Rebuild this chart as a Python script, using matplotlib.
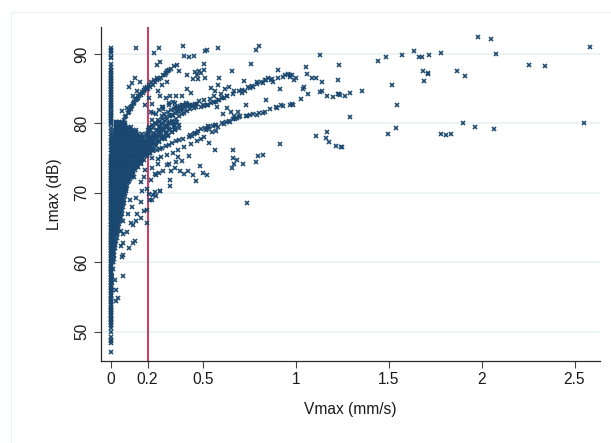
import matplotlib
matplotlib.use("Agg")
import matplotlib.pyplot as plt
from matplotlib.patches import Rectangle

plt.rcParams['font.family'] = ['Liberation Sans', 'DejaVu Sans']

x_ticks = [0, 0.2, 0.5, 1, 1.5, 2, 2.5]
x_tick_labels = ['0', '0.2', '0.5', '1', '1.5', '2', '2.5']
y_ticks = [50, 60, 70, 80, 90]
threshold = 0.2

# column of near-zero Vmax readings
column_vmax = 0.001
column_lmax = [47.1, 48.4, 48.6, 48.8, 49.2, 50.0, 50.9, 51.2, 51.6, 52.0, 52.4, 52.9, 53.3, 53.8, 54.2, 54.7,
               55.1, 55.6, 56.0, 56.5, 57.0, 57.4, 57.9, 58.3, 58.8, 59.2, 59.7, 60.2, 60.6, 61.1, 61.6, 62.0,
               62.5, 63.0, 63.4, 63.9, 64.4, 64.9, 65.3, 65.8, 66.3, 66.7, 67.2, 67.7, 68.2, 68.6, 69.1, 69.6,
               70.0, 70.5, 71.0, 71.4, 71.9, 72.4, 72.9, 73.3, 73.8, 74.3, 74.7, 75.2, 75.7, 76.1, 76.6, 77.1,
               77.5, 78.0, 78.5, 78.9, 79.4, 79.9, 80.3, 80.8, 81.3, 81.7, 82.2, 82.7, 83.1, 83.6, 84.1, 84.5,
               85.0, 85.4, 85.9, 86.3, 86.8, 87.2, 87.7, 88.1, 88.5, 89.4, 89.6, 90.2, 90.4, 90.6, 90.8]
column2_vmax = 0.004
column2_lmax = [50.5, 51.0, 51.4, 51.8, 52.2, 52.7, 53.1, 53.6, 54.0, 54.5, 54.9, 55.3, 55.8, 56.3, 56.7, 57.2,
                57.7, 58.1, 58.6, 59.0, 59.5, 59.9, 60.4, 60.9, 61.3, 61.8, 62.3, 62.7, 63.2, 63.7, 64.1, 64.6,
                65.1, 65.5, 66.0, 66.5, 67.0, 67.4, 67.9, 68.4, 68.9, 69.3, 69.8, 70.3, 70.7, 71.2, 71.7, 72.1,
                72.6, 73.1, 73.5, 74.0, 74.5, 75.0, 80.1, 80.6, 81.0, 81.5, 82.0, 82.4, 82.9, 83.4, 83.8, 84.3,
                84.8, 85.2, 85.7, 86.1, 86.6, 87.0, 87.5]

# dense mass, read row by row
dense_lmax = [56.0, 57.0, 58.0, 59.0, 60.0, 60.5, 61.0, 61.5, 62.0, 62.5, 63.0, 63.5, 64.0, 64.5, 65.0, 65.5, 66.0,
              66.5, 67.0, 67.5, 68.0, 68.5, 69.0, 69.5, 70.0, 70.5, 71.0, 71.5, 72.0, 72.5, 73.0, 73.5, 74.0,
              74.5, 75.0, 75.5, 76.0, 76.5, 77.0, 77.5, 78.0, 78.5, 79.0, 79.5, 80.0]
dense_vmax = [
    [.008], [.009], [.010], [.012], [.011, .016], [.012, .017], [.012, .018], [.012, .02], [.014, .024],
    [.014, .026], [.014, .03], [.015, .033], [.014, .028, .036], [.015, .03, .04], [.015, .03, .043],
    [.014, .03, .046], [.015, .032, .05], [.015, .03, .045, .055], [.016, .032, .048, .06],
    [.015, .03, .046, .062], [.014, .03, .045, .06, .068], [.016, .032, .048, .062, .072],
    [.015, .03, .046, .06, .075], [.014, .03, .045, .06, .078], [.016, .032, .048, .064, .08],
    [.015, .03, .046, .062, .077, .085], [.014, .03, .045, .06, .075, .09],
    [.015, .032, .048, .064, .08, .096], [.016, .03, .046, .062, .078, .094, .105],
    [.014, .03, .047, .063, .079, .095, .11], [.015, .032, .048, .064, .08, .096, .112, .12],
    [.016, .03, .046, .062, .078, .094, .11, .126, .132],
    [.014, .03, .047, .063, .079, .095, .111, .127, .143],
    [.015, .032, .048, .064, .08, .096, .112, .128, .144, .155],
    [.016, .03, .046, .062, .078, .094, .11, .126, .142, .158, .17],
    [.014, .03, .047, .063, .079, .095, .111, .127, .143, .159, .175, .188],
    [.015, .032, .048, .064, .08, .096, .112, .128, .144, .16, .176, .192, .205],
    [.016, .03, .046, .062, .078, .094, .11, .126, .142, .158, .174, .19, .206, .222],
    [.014, .03, .047, .063, .079, .095, .111, .127, .143, .159, .175, .191, .207, .223, .24],
    [.015, .032, .048, .064, .08, .096, .112, .128, .144, .16, .176, .192, .208, .224, .25],
    [.016, .03, .046, .062, .078, .094, .11, .126, .142, .158, .174, .19, .215, .245, .265, .285],
    [.022, .036, .052, .068, .084, .1, .116, .132, .15, .168, .19, .23, .27, .3],
    [.026, .042, .058, .074, .09, .106, .122, .14, .2, .25, .29, .32],
    [.028, .044, .06, .076, .092, .108, .21, .26, .31, .34],
    [.03, .046, .062, .078, .28, .32, .35]]

dense2_lmax = [61.75, 62.25, 62.75, 63.25, 63.75, 64.25, 64.75, 65.25, 65.75, 66.25, 66.75, 67.25, 67.75, 68.25,
               68.75, 69.25, 69.75, 70.25, 70.75, 71.25, 71.75, 72.25, 72.75, 73.25, 73.75, 74.25, 74.75, 75.25,
               75.75, 76.25, 76.75, 77.25, 77.75, 78.25, 78.75, 79.25, 79.75, 80.25]
dense2_vmax = [
    [.01], [.012], [.011, .022], [.012, .026], [.01, .024], [.011, .023, .034], [.012, .022, .036],
    [.01, .024, .038], [.009, .023, .04], [.01, .024, .038, .048], [.011, .025, .04, .052],
    [.008, .024, .04, .054], [.01, .025, .04, .055], [.008, .022, .038, .054, .064], [.01, .024, .04, .054, .068],
    [.008, .022, .038, .054, .07], [.009, .024, .04, .056, .074], [.008, .023, .038, .054, .07, .082],
    [.01, .024, .038, .054, .07, .086], [.008, .022, .038, .054, .07, .086], [.009, .024, .04, .056, .072, .088, .1],
    [.008, .022, .038, .054, .07, .086, .102, .114], [.01, .024, .04, .056, .072, .088, .104, .12],
    [.008, .022, .038, .054, .07, .086, .102, .118, .13], [.009, .024, .04, .056, .072, .088, .104, .12, .136, .15],
    [.008, .023, .038, .054, .07, .086, .102, .118, .134, .15, .165],
    [.01, .024, .04, .056, .072, .088, .104, .12, .136, .152, .168, .18],
    [.008, .022, .038, .054, .07, .086, .102, .118, .134, .15, .166, .182, .198],
    [.009, .024, .04, .056, .072, .088, .104, .12, .136, .152, .168, .184, .2, .215],
    [.008, .022, .038, .054, .07, .086, .102, .118, .134, .15, .166, .182, .198, .214, .23],
    [.01, .024, .04, .056, .072, .088, .104, .12, .136, .152, .168, .184, .2, .22, .245],
    [.008, .022, .038, .054, .07, .086, .102, .118, .134, .15, .166, .182, .198, .23, .26],
    [.01, .024, .04, .056, .072, .088, .104, .12, .136, .152, .168, .2, .24, .275, .295],
    [.018, .03, .046, .062, .078, .094, .11, .126, .142, .16, .2, .255, .285, .31],
    [.024, .038, .054, .07, .086, .102, .118, .135, .205, .265, .3, .33],
    [.028, .042, .058, .074, .09, .106, .27, .315, .345],
    [.03, .045, .06, .076, .3, .34, .37],
    [.032, .048, .064, .33, .36]]

# the three curved bands
band_vmax = [.057, .075, .084, .093, .102, .111, .12, .129, .137, .146, .155, .164, .173, .182, .191, .2, .213, .227,
             .24, .253, .262, .271, .285, .298, .307, .316, .325, .342, .359, .3, .31, .293,
             .2, .21, .22, .23, .244, .255, .27, .285, .298, .315, .33, .351, .37, .385, .396, .41, .43, .45,
             .2, .215, .23, .245, .262, .28, .3, .32, .334, .35, .365, .38, .4, .42, .44,
             .2, .215, .23, .25, .265, .28, .3, .315, .33, .351, .37, .39, .423, .44, .467, .45, .43,
             .21, .24, .26, .29, .31, .33, .35, .37,
             .08, .098, .108, .117, .126, .134, .142, .15, .16, .168, .178, .186, .196, .206, .22, .234, .248,
             .205, .218, .235, .25, .265, .278, .292, .305, .322, .338, .36, .375, .39,
             .21, .225, .24, .255, .275, .29, .31, .325, .342, .358, .375, .39, .41]
band_lmax = [80.0, 80.5, 81.0, 81.5, 81.9, 82.3, 82.8, 83.1, 83.3, 83.6, 83.9, 84.1, 84.4, 84.7, 84.9, 85.0, 85.3, 85.5,
             85.9, 86.3, 86.4, 86.5, 86.9, 87.3, 87.5, 87.7, 87.9, 88.2, 88.4, 87.2, 87.6, 87.0,
             77.0, 77.3, 77.7, 78.0, 78.3, 78.7, 79.0, 79.4, 79.5, 80.0, 80.4, 80.7, 81.0, 81.3, 81.5, 81.8, 82.0, 82.2,
             78.6, 79.0, 79.4, 79.9, 80.2, 80.6, 80.9, 81.1, 81.2, 81.5, 81.8, 82.0, 82.4, 82.5, 82.6,
             75.7, 75.8, 76.0, 76.1, 76.3, 76.4, 76.7, 76.9, 77.1, 77.4, 77.6, 77.8, 78.1, 78.2, 78.6, 78.5, 78.3,
             76.9, 77.2, 77.4, 77.9, 78.3, 78.7, 79.1, 79.4,
             80.9, 81.6, 82.1, 82.5, 82.9, 83.3, 83.5, 83.9, 84.2, 84.5, 84.8, 85.1, 85.3, 85.6, 86.0, 86.3, 86.6,
             77.6, 78.0, 78.6, 79.1, 79.6, 79.9, 80.4, 80.6, 81.0, 81.2, 81.6, 81.9, 82.1,
             79.4, 79.8, 80.1, 80.5, 81.0, 81.3, 81.6, 81.9, 82.1, 82.3, 82.5, 82.7, 82.8]

# further readings along the outer arms, x from 0.45 to 0.95
arm_vmax = [.455, .47, .49, .51, .53, .55, .57, .6, .62, .64, .66, .68, .7, .73, .75, .77, .8, .83, .86, .89, .92,
            .46, .485, .505, .52, .54, .56, .58, .61, .63, .66, .69, .71, .74, .76, .79, .81, .84, .87, .9, .94]
arm_lmax = [78.6, 78.9, 79.2, 79.3, 79.5, 79.6, 79.7, 80.0, 80.2, 80.4, 80.6, 80.8, 81.0, 81.1, 81.2, 81.3, 81.5, 81.7, 82.0, 82.3, 82.6,
            82.3, 82.4, 82.5, 82.7, 82.9, 83.1, 83.4, 83.7, 83.9, 84.2, 84.6, 84.8, 85.2, 85.4, 85.7, 85.9, 86.2, 86.4, 86.5, 86.9]

# individually readable points, left part
scatter_vmax = [.136, .263, .232, .393, .398, .422, .448, .519, .510, .580, .782, .802, .759, .502, .266, .248,
                .368, .413, .454, .475, .502, .465, .486, .652, .905, .509, .474, .447, .587, .578, .720,
                .958, .931, .967, .850, .832, .823, .788, .770, .752, .725, .707, .864, .877, .912,
                .641, .618, .663, .587, .627, .599, .568, .573, .527, .500, .466, .597, .628, .541, .561,
                .513, .527, .563, .581, .609, .645, .672, .693, .734, .788, .823, .895, .927, .836,
                .912, .530, .563, .659, .659, .681, .668, .657, .713, .782, .793, .823,
                .257, .313, .354, .363, .384, .425, .482, .375, .398, .420, .447, .461, .497, .520, .322, .318,
                .218, .239, .181, .164, .124, .195, .266, .239, .734,
                .198, .195, .182, .165, .138, .109, .123, .141, .088, .056, .07, .132, .12, .097, .07, .056,
                .061, .065, .065, .025, .031, .043, .031, .163, .115, .093, .106, .138, .168, .07,
                .213, .222, .209, .231, .245, .266,
                .061, .088, .034, .102, .133, .114, .159, .141, .12, .186, .209, .222, .218, .231, .222,
                .275, .254, .266, .307, .298, .318, .354, .384, .349, .411, .432, .275, .284, .316, .336,
                .244, .264, .284, .316, .346, .366, .386, .406, .426, .456, .476, .506, .536, .556,
                .224, .254, .274, .304, .336, .366, .396, .436, .466, .486, .506, .526, .546, .566, .606, .648, .668, .688, .728,
                .124, .144, .164, .184, .224, .264, .284, .244, .306, .326, .346]
scatter_lmax = [90.87, 90.87, 90.2, 91.2, 89.7, 89.5, 89.7, 90.6, 90.5, 90.8, 90.6, 91.2, 88.56, 88.5, 88.8, 88.4,
                87.5, 86.9, 87.4, 87.5, 87.7, 87.0, 87.2, 87.5, 87.7, 86.6, 86.4, 86.4, 86.6, 85.6, 86.1,
                87.1, 86.7, 86.7, 86.6, 86.3, 85.8, 85.9, 85.3, 85.1, 84.7, 84.4, 86.3, 86.0, 85.0,
                85.3, 85.0, 84.7, 83.4, 83.9, 83.6, 83.1, 82.3, 82.6, 82.6, 82.8, 84.2, 82.2, 85.1, 84.6,
                79.05, 79.6, 79.7, 79.5, 79.9, 80.25, 80.7, 80.9, 81.0, 81.2, 81.5, 82.2, 82.5, 83.3,
                77.0, 77.2, 76.2, 76.2, 75.0, 74.7, 74.1, 73.6, 74.2, 74.5, 75.3, 75.5,
                74.1, 74.2, 74.5, 75.1, 74.6, 75.3, 73.9, 73.2, 72.7, 73.2, 72.5, 71.7, 72.8, 72.5, 71.8, 71.0,
                71.8, 72.7, 72.3, 71.5, 72.3, 70.5, 70.3, 70.1, 68.5,
                65.7, 67.5, 67.4, 66.3, 66.0, 65.6, 65.3, 66.9, 64.3, 64.5, 64.0, 63.0, 62.7, 62.1, 62.7, 62.3,
                60.8, 61.0, 58.0, 57.4, 56.0, 54.8, 54.4, 68.7, 68.0, 67.0, 69.0, 69.2, 70.2, 66.0,
                69.0, 69.0, 69.8, 69.7, 69.5, 70.2,
                81.8, 82.2, 80.2, 85.3, 86.6, 85.8, 86.0, 84.7, 83.9, 82.7, 83.7, 82.8, 81.7, 81.5, 80.5,
                85.5, 84.7, 83.9, 86.0, 83.6, 84.0, 84.0, 84.0, 82.4, 85.0, 84.4, 82.4, 82.0, 82.9, 83.1,
                81.4, 81.9, 82.3, 82.6, 82.9, 82.2, 82.6, 83.0, 82.7, 82.8, 83.2, 83.3, 83.5, 83.9,
                75.0, 74.9, 75.2, 75.4, 75.8, 76.2, 76.6, 77.0, 77.5, 77.8, 78.1, 79.2, 78.7, 78.9, 81.3, 81.7, 81.0, 81.6, 82.6,
                73.5, 73.9, 74.1, 73.3, 73.6, 72.9, 73.2, 72.6, 74.0, 73.1, 73.6]

# sparse points, right part
sparse_vmax = [1.981, 2.052, 2.078, 2.581, 2.254, 2.341, 2.549, 2.066, 1.965, 1.897, 1.832, 1.807, 1.782, 1.539, 1.496,
               1.29, 1.244, 1.247, 1.214, 1.178, 1.161, 1.166, 1.109, 1.541, 1.519, 1.691, 1.712, 1.712, 1.684,
               1.869, 1.911, 1.782, 1.716, 1.676, 1.661, 1.635, 1.572, 1.486, 1.441, 1.354, 1.29, 1.263, 1.231,
               1.226, 1.236, 1.2, 1.166, 1.141, 1.127, 1.066, 1.026, 1.037, 1.044, .976, .985, .967, 1.137,
               1.228, 1.107, 1.088, 1.061, 1.053, 1.233, 1.129, .999, .988, .976, .967]
sparse_lmax = [92.5, 92.16, 90.0, 91.0, 88.4, 88.2, 80.1, 79.15, 79.5, 80.1, 78.4, 78.3, 78.4, 79.3, 78.5,
               80.9, 76.6, 76.65, 76.8, 77.3, 77.9, 78.7, 78.2, 82.6, 85.5, 86.1, 87.1, 87.3, 87.6,
               87.5, 86.8, 90.2, 89.8, 89.6, 89.5, 90.4, 89.8, 89.6, 89.0, 84.7, 84.4, 84.0, 84.2,
               84.3, 84.1, 83.85, 84.0, 84.6, 84.5, 84.3, 83.5, 85.0, 85.2, 82.75, 82.7, 82.6, 86.0,
               86.3, 86.6, 86.6, 87.1, 88.1, 88.4, 89.8, 86.5, 86.3, 86.9, 86.9]

GRID = '#eaf2f3'
NAVY = '#1a476f'
RED = '#c10534'
DARK = '#2a2a2a'

fig = plt.figure(figsize=(6.11, 4.43), dpi=100, facecolor='white')
fig.add_artist(Rectangle((10.5 / 611, -0.01), 700 / 611, (443 - 12) / 443 + 0.01, transform=fig.transFigure,
                         fill=False, edgecolor=GRID, lw=0.8))
ax = fig.add_axes([100.5 / 611, (443 - 361) / 443, (600 - 100.5) / 611, (361 - 27) / 443])
ax.set_xlim((100.5 - 110.5) / 185.6, (600 - 110.5) / 185.6)
ax.set_ylim(50 - (361 - 331.5) / 6.94, 90 + (54 - 27) / 6.94)

ax.yaxis.grid(True, color=GRID, lw=1.3, zorder=0)
ax.set_axisbelow(True)
ax.axvline(threshold, color=RED, lw=1.1, zorder=1)

mk = dict(ls='none', marker='x', color=NAVY, ms=3.2, mew=1.15, zorder=2, clip_on=False)
ax.plot([column_vmax] * len(column_lmax), column_lmax, **mk)
ax.plot([column2_vmax] * len(column2_lmax), column2_lmax, **mk)
for lev, row in zip(dense_lmax, dense_vmax):
    ax.plot(row, [lev] * len(row), **mk)
for lev, row in zip(dense2_lmax, dense2_vmax):
    ax.plot(row, [lev] * len(row), **mk)
ax.plot(band_vmax, band_lmax, **mk)
ax.plot(arm_vmax, arm_lmax, **mk)
ax.plot(scatter_vmax, scatter_lmax, **mk)
ax.plot(sparse_vmax, sparse_lmax, **mk)

for s in ('top', 'right'):
    ax.spines[s].set_visible(False)
for s in ('left', 'bottom'):
    ax.spines[s].set_color(DARK)
    ax.spines[s].set_linewidth(0.9)

ax.set_xticks(x_ticks, x_tick_labels)
ax.set_yticks(y_ticks)
ax.tick_params(axis='both', length=5, width=0.8, color='#444444', labelsize=11.2, labelcolor='#1a1a1a', pad=3)
ax.tick_params(axis='y', labelrotation=90)
for t in ax.get_yticklabels():
    t.set_va('center')
ax.set_xlabel('Vmax (mm/s)', fontsize=11.2, color='#1a1a1a', labelpad=11)
ax.set_ylabel('Lmax (dB)', fontsize=11.2, color='#1a1a1a', labelpad=9)

fig.savefig('out.png', dpi=100)
